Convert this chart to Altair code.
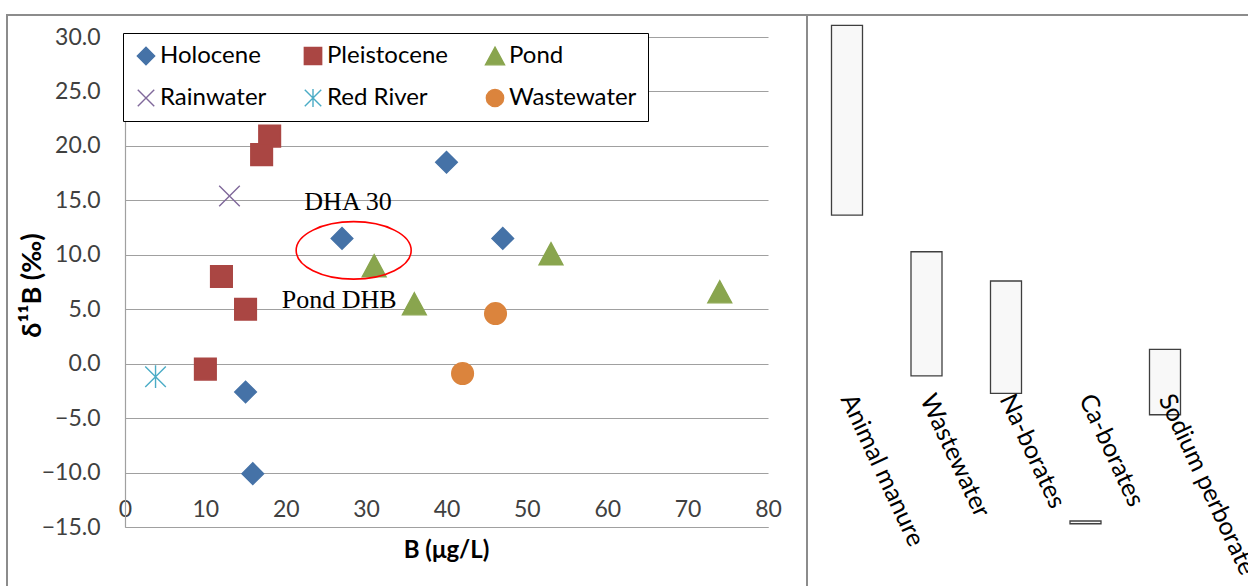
import altair as alt
import pandas as pd

# Boron concentration (µg/L) and boron isotope ratio δ11B (‰) of water samples
holocene_b = [27, 40, 47, 15, 15.9]
holocene_d11b = [11.5, 18.5, 11.5, -2.6, -10.1]
pleistocene_b = [18, 17, 12, 15, 10]
pleistocene_d11b = [20.9, 19.2, 8.0, 5.0, -0.5]
pond_b = [31, 53, 36, 74]
pond_d11b = [9.0, 10.1, 5.5, 6.6]
rainwater_b = [13]
rainwater_d11b = [15.4]
red_river_b = [3.8]
red_river_d11b = [-1.2]
wastewater_b = [46.1, 42]
wastewater_d11b = [4.6, -0.9]

groups = ["Holocene", "Pleistocene", "Pond", "Rainwater", "Red River", "Wastewater"]
group_colors = ["#4572A7", "#AA4643", "#89A54E", "#80699B", "#4BACC6", "#DB843D"]
TRIANGLE = "M0,-1.02L1.1,1.02L-1.1,1.02Z"
X_MARK = "M-0.95,-0.95L0.95,0.95M-0.95,0.95L0.95,-0.95"
STAR_MARK = "M-0.95,-0.95L0.95,0.95M-0.95,0.95L0.95,-0.95M0,-1.05L0,1.05"
group_shapes = ["diamond", "square", TRIANGLE, X_MARK, STAR_MARK, "circle"]

# Typical δ11B ranges of boron sources
source_names = ["Animal manure", "Wastewater", "Na-borates", "Ca-borates", "Sodium perborate"]
source_low = [13.65, -1.13, -2.72, -14.7, -4.69]
source_high = [31.06, 10.28, 7.59, -14.45, 1.32]

# Sample labels and the highlight around DHA 30
label_text = ["DHA 30", "Pond DHB"]
label_b = [27.75, 26.65]
label_d11b = [14.1, 5.1]
highlight_b = [28.45]
highlight_d11b = [10.4]

GRID = "#A0A0A0"
TICK_TEXT = "#404040"
FONT = "Lato"
FRAME = "#8C8C8C"

series = [
    ("Holocene", holocene_b, holocene_d11b),
    ("Pleistocene", pleistocene_b, pleistocene_d11b),
    ("Pond", pond_b, pond_d11b),
    ("Rainwater", rainwater_b, rainwater_d11b),
    ("Red River", red_river_b, red_river_d11b),
    ("Wastewater", wastewater_b, wastewater_d11b),
]
samples = pd.DataFrame(
    [{"group": g, "B": b, "d11B": d} for g, bs, ds in series for b, d in zip(bs, ds)]
)
sources = pd.DataFrame({"source": source_names, "d11B": source_low, "high": source_high})
labels = pd.DataFrame({"text": label_text, "B": label_b, "d11B": label_d11b})
highlight = pd.DataFrame({"B": highlight_b, "d11B": highlight_d11b})

x_scale = alt.Scale(domain=[0, 80], nice=False, zero=False)
y_scale = alt.Scale(domain=[-15, 30], nice=False, zero=False)

x_axis = alt.Axis(
    orient="bottom",
    values=list(range(0, 81, 10)),
    grid=False,
    ticks=False,
    tickSize=0,
    domain=True,
    domainColor=GRID,
    domainWidth=1.2,
    labelPadding=-18,
    labelBaseline="middle",
    labelFlush=False,
    labelFont=FONT,
    labelFontSize=23,
    labelColor=TICK_TEXT,
    title="B (μg/L)",
    titleFont=FONT,
    titleFontSize=24,
    titleFontWeight="bold",
    titleColor="#000000",
    titleX=321,
    titleY=23,
    titleAlign="center",
    titleBaseline="middle",
)
y_axis = alt.Axis(
    values=list(range(-15, 31, 5)),
    format=".1f",
    grid=True,
    gridColor=GRID,
    gridWidth=1.2,
    ticks=False,
    tickSize=0,
    domain=True,
    domainColor=GRID,
    domainWidth=1.2,
    labelPadding=25,
    labelFlush=False,
    labelFont=FONT,
    labelFontSize=23,
    labelColor=TICK_TEXT,
    title="δ¹¹B    (‰)",
    titleFont=FONT,
    titleFontSize=27,
    titleFontWeight="bold",
    titleColor="#000000",
    titleAngle=-90,
    titleX=-93,
    titleY=248,
    titleAlign="center",
    titleBaseline="middle",
)

x_main = alt.X("B:Q", scale=x_scale, axis=x_axis)
y_main = alt.Y("d11B:Q", scale=y_scale, axis=y_axis)

legend_spec = alt.Legend(title=None, symbolSize=300)
points = alt.Chart(samples).mark_point(filled=True, opacity=1, strokeWidth=1.4, size=470).encode(
    x=x_main,
    y=y_main,
    color=alt.Color("group:N", sort=groups, scale=alt.Scale(domain=groups, range=group_colors), legend=legend_spec),
    stroke=alt.Stroke("group:N", sort=groups, scale=alt.Scale(domain=groups, range=group_colors), legend=legend_spec),
    shape=alt.Shape("group:N", sort=groups, scale=alt.Scale(domain=groups, range=group_shapes), legend=legend_spec),
)

ring = alt.Chart(highlight).mark_point(
    shape="M-1,0A1,0.5,0,1,1,1,0A1,0.5,0,1,1,-1,0Z",
    size=13225,
    filled=False,
    stroke="#FF0000",
    strokeWidth=1.6,
    opacity=1,
).encode(x=x_main, y=y_main)

sample_labels = alt.Chart(labels).mark_text(
    font="Liberation Serif", fontSize=26, align="center", baseline="alphabetic", color="#000000"
).encode(x=x_main, y=y_main, text="text:N")

scatter_panel = alt.layer(points, ring, sample_labels)

source_boxes = alt.Chart(sources).mark_bar(
    width=31, fill="#F8F8F8", stroke="#3F3F3F", strokeWidth=1.3
).encode(
    x=alt.X(
        "source:N",
        sort=source_names,
        scale=alt.Scale(type="point", range=[722, 1040], padding=0),
        axis=alt.Axis(
            orient="top",
            offset=-358,
            zindex=2,
            domain=False,
            ticks=False,
            tickSize=0,
            grid=False,
            labelAngle=65,
            labelAlign="left",
            labelBaseline="middle",
            labelPadding=0,
            labelFont=FONT,
            labelFontSize=25,
            labelColor="#000000",
            labelLimit=400,
            title=None,
        ),
    ),
    y=y_main,
    y2="high:Q",
)

one_row = alt.Data(values=[{}])
frame_left = alt.Chart(one_row).mark_rule(color=FRAME, strokeWidth=2).encode(
    x=alt.value(-118), y=alt.value(-22), y2=alt.value(570)
)
frame_top = alt.Chart(one_row).mark_rule(color=FRAME, strokeWidth=2).encode(
    x=alt.value(-119), x2=alt.value(1140), y=alt.value(-22)
)
frame_divider = alt.Chart(one_row).mark_rule(color=FRAME, strokeWidth=2).encode(
    x=alt.value(682), y=alt.value(-22), y2=alt.value(570)
)

chart = (
    alt.layer(scatter_panel, source_boxes, frame_left, frame_top, frame_divider)
    .resolve_scale(x="independent")
    .properties(
        width=643,
        height=490,
        padding={"left": 125, "top": 37, "right": 480, "bottom": 59},
        autosize=alt.AutoSizeParams(type="none"),
        background="#FFFFFF",
    )
    .configure_view(strokeWidth=0)
    .configure_legend(
        orient="none",
        legendX=-2,
        legendY=-4,
        direction="horizontal",
        columns=3,
        padding=11,
        strokeColor="#000000",
        fillColor="#FFFFFF",
        labelFont=FONT,
        labelFontSize=24,
        labelColor="#000000",
        labelOffset=2,
        labelLimit=300,
        symbolSize=300,
        symbolStrokeWidth=1.4,
        rowPadding=18,
        columnPadding=34,
    )
)

chart.save("out.html", embed_options={"renderer": "svg", "actions": False})
